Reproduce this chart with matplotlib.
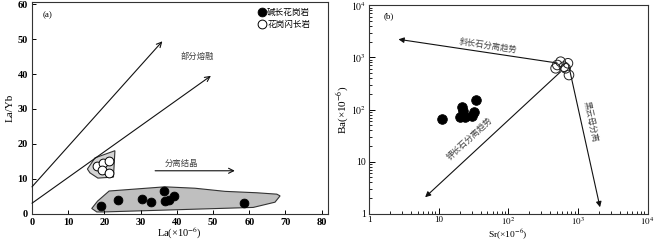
import numpy as np
import matplotlib
matplotlib.use("Agg")
import matplotlib.pyplot as plt
from matplotlib.ticker import FixedLocator, LogLocator, NullFormatter

plt.rcParams['font.family'] = ['Liberation Serif', 'Noto Sans CJK SC', 'DejaVu Sans']
plt.rcParams['mathtext.fontset'] = 'stix'

CJK = ['Noto Sans CJK SC', 'DejaVu Sans']

# ---------------- Panel (a) data ----------------
alk_la = [19.1, 23.7, 30.5, 32.8, 36.5, 36.7, 37.7, 39.3, 58.6]
alk_layb = [2.3, 3.9, 4.1, 3.3, 6.5, 3.7, 3.9, 5.1, 3.2]
gd_la = [18.0, 19.6, 21.3, 19.2, 21.3]
gd_layb = [13.8, 14.4, 15.2, 12.4, 11.6]
gd_field_x = [15.3, 17.4, 22.9, 22.5, 18.2, 16.0]
gd_field_y = [12.8, 16.0, 18.05, 10.5, 10.2, 11.7]
alk_field_x = [16.5, 18.1, 21.3, 36.7, 45.0, 53.3, 62.0, 67.6, 68.5, 67.1, 61.1, 19.7, 17.9]
alk_field_y = [1.5, 3.6, 6.5, 7.7, 7.3, 6.4, 6.0, 5.6, 5.1, 3.3, 1.8, 0.5, 0.5]
pm_arrows = [((0, 7.7), (36.0, 49.4)), ((0, 3.0), (49.4, 39.5))]
fc_arrow = ((34.0, 12.3), (56.0, 12.3))
a_xticks = [0, 10, 20, 30, 40, 50, 60, 70, 80]
a_yticks = [0, 10, 20, 30, 40, 50, 60]

# ---------------- Panel (b) data ----------------
alk_sr = [11.2, 20.5, 21.7, 24.2, 22.6, 30.2, 31.8, 34.5]
alk_ba = [65, 72.8, 113, 70.8, 93, 75, 91, 150]
gd_sr = [507, 565, 631, 720, 745, 479, 667]
gd_ba = [715, 827, 663, 771, 459, 618, 618]
b_arrows = [((505, 780), (2.65, 2225)),
            ((565, 530), (6.4, 2.07)),
            ((745, 660), (2080, 1.33))]
b_texts = ['斜长石分离趋势', '钾长石分离趋势', '黑云母分离']
b_text_pos = [(52, 1700), (28, 28), (1500, 58)]
b_ticks = [1, 10, 100, 1000, 10000]
b_ticklabels = ['1', '10', r'$10^{2}$', r'$10^{3}$', r'$10^{4}$']

fig = plt.figure(figsize=(6.58, 2.42), dpi=100)

# ---------- (a) ----------
ax = fig.add_axes([32/658, 1-213.7/242, (327.5-32)/658, (213.7-1.5)/242])
ax.set_xlim(0, 81.6)
ax.set_ylim(0, 60.8)
ax.fill(alk_field_x, alk_field_y, facecolor='#bfbfbf', edgecolor='#333333', lw=0.8, zorder=1)
ax.fill(gd_field_x, gd_field_y, facecolor='#d4d4d4', edgecolor='#333333', lw=0.8, zorder=1)
for (s, e) in pm_arrows:
    ax.annotate('', xy=e, xytext=s,
                arrowprops=dict(arrowstyle='->', color='#111111', lw=0.8,
                                shrinkA=0, shrinkB=0, mutation_scale=9))
ax.annotate('', xy=fc_arrow[1], xytext=fc_arrow[0],
            arrowprops=dict(arrowstyle='->', color='#111111', lw=0.8,
                            shrinkA=0, shrinkB=0, mutation_scale=9))
ax.scatter(alk_la, alk_layb, s=40, c='black', edgecolors='black', lw=0.6, zorder=3, label='碱长花岗岩')
ax.scatter(gd_la, gd_layb, s=40, c='white', edgecolors='black', lw=0.7, zorder=3, label='花岗闪长岩')
ax.text(45.7, 45.2, '部分熔融', family=CJK, fontsize=6, color='#444444', ha='center', va='center')
ax.text(41.3, 14.4, '分离结晶', family=CJK, fontsize=6, color='#444444', ha='center', va='center')
ax.text(3.0, 57.0, '(a)', fontsize=6.5, ha='left', va='center')
ax.set_xticks(a_xticks)
ax.set_yticks(a_yticks)
ax.tick_params(direction='in', length=3, width=0.7, labelsize=7.5, pad=3)
for lab in ax.get_xticklabels() + ax.get_yticklabels():
    lab.set_fontweight('bold')
ax.set_xlabel(r'La(×10$^{-6}$)', fontsize=7.5)
ax.xaxis.set_label_coords(0.5, -0.058)
ax.set_ylabel('La/Yb', fontsize=8, labelpad=2)
leg = ax.legend(loc='upper left', bbox_to_anchor=(0.745, 0.995), frameon=False,
                prop={'family': CJK, 'size': 6.2}, handletextpad=0.15,
                borderaxespad=0.2, labelspacing=0.35, handlelength=1.0, markerscale=1.0)
for s in ax.spines.values():
    s.set_linewidth(0.8)
    s.set_color('#333333')

# ---------- (b) ----------
bx = fig.add_axes([369/658, 1-213.7/242, (647.5-369)/658, (213.7-5.3)/242])
bx.set_xscale('log')
bx.set_yscale('log')
bx.set_xlim(1, 1e4)
bx.set_ylim(1, 1e4)
for (s, e) in b_arrows:
    bx.annotate('', xy=e, xytext=s,
                arrowprops=dict(arrowstyle='-|>', color='#111111', lw=0.8,
                                shrinkA=0, shrinkB=0, mutation_scale=8))
bx.scatter(alk_sr, alk_ba, s=48, c='black', edgecolors='black', lw=0.6, zorder=3)
bx.scatter(gd_sr, gd_ba, s=48, c='none', edgecolors='#222222', lw=0.7, zorder=3)
fig.canvas.draw()
for txt, pos, (s, e) in zip(b_texts, b_text_pos, b_arrows):
    p0 = bx.transData.transform(s)
    p1 = bx.transData.transform(e)
    ang = np.degrees(np.arctan2(p1[1]-p0[1], p1[0]-p0[0]))
    if ang > 90:
        ang -= 180
    elif ang < -90:
        ang += 180
    bx.text(pos[0], pos[1], txt, family=CJK, fontsize=6, color='#444444',
            ha='center', va='center', rotation=ang, rotation_mode='anchor')
bx.text(1.6, 6200, '(b)', fontsize=6.5, ha='left', va='center')
bx.xaxis.set_major_locator(FixedLocator(b_ticks))
bx.yaxis.set_major_locator(FixedLocator(b_ticks))
bx.set_xticklabels(b_ticklabels)
bx.set_yticklabels(b_ticklabels)
bx.xaxis.set_minor_locator(LogLocator(base=10, subs=np.arange(2, 10)))
bx.yaxis.set_minor_locator(LogLocator(base=10, subs=np.arange(2, 10)))
bx.xaxis.set_minor_formatter(NullFormatter())
bx.yaxis.set_minor_formatter(NullFormatter())
bx.tick_params(which='major', direction='in', length=4, width=0.7, labelsize=7, pad=2)
bx.tick_params(axis='x', which='major', labelsize=6.5, pad=1.5)
bx.tick_params(which='minor', direction='in', length=2.5, width=0.6)
bx.set_xlabel(r'Sr(×10$^{-6}$)', fontsize=6.8)
bx.xaxis.set_label_coords(0.5, -0.066)
bx.set_ylabel(r'Ba(×10$^{-6}$)', fontsize=8, labelpad=0)
for s in bx.spines.values():
    s.set_linewidth(0.8)
    s.set_color('#333333')

fig.savefig('out.png', dpi=100)
